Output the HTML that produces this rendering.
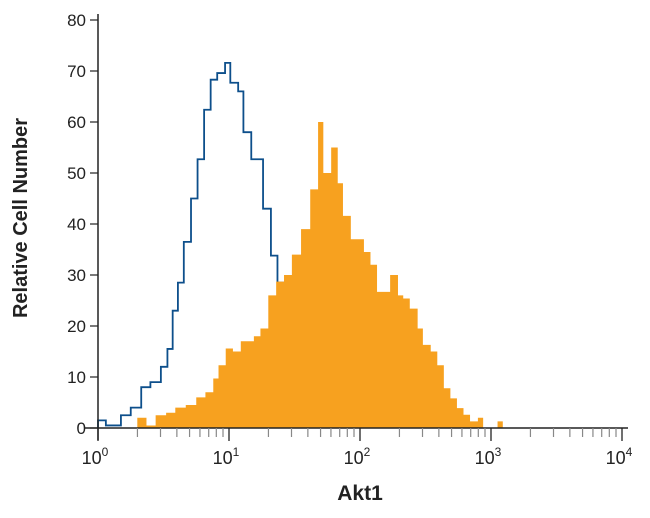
<!DOCTYPE html>
<html><head><meta charset="utf-8">
<style>
html,body{margin:0;padding:0;background:#fff;}
svg{display:block;font-family:"Liberation Sans",sans-serif;}
</style></head>
<body>
<svg id="chart" width="650" height="518" viewBox="0 0 650 518">
<g id="plot"></g>
<g id="axes"></g>
<text x="360" y="500" text-anchor="middle" font-size="21" font-weight="bold" fill="#222">Akt1</text>
<text transform="translate(27,218) rotate(-90)" text-anchor="middle" font-size="20" font-weight="bold" fill="#222">Relative Cell Number</text>
</svg>
<script>
const isoLog=[0,0.06,0.10,0.175,0.25,0.33,0.40,0.48,0.53,0.57,0.61,0.655,0.71,0.76,0.81,0.86,0.91,0.97,1.01,1.07,1.11,1.17,1.22,1.26,1.32,1.37,1.42,1.47,1.52,1.58,1.66,1.78];
const isoCount=[1.5,0.5,0.5,2.5,4,8,9,12,15.5,23,28.5,36.5,45,52.7,62.4,68.3,69.6,71.6,67.7,66,58,52.7,52.7,43,33.8,28.5,24,18,12,6,2];
const aktLog=[0.30,0.37,0.44,0.52,0.59,0.67,0.75,0.82,0.88,0.92,0.975,1.03,1.09,1.14,1.19,1.24,1.30,1.36,1.42,1.48,1.55,1.62,1.68,1.72,1.78,1.83,1.87,1.93,1.98,2.03,2.08,2.13,2.18,2.23,2.29,2.33,2.38,2.44,2.48,2.54,2.59,2.64,2.69,2.74,2.79,2.84,2.90,2.94,2.99,3.05,3.09];
const aktCount=[2,0.5,2.5,3,4,4.5,6,7,9.7,12.3,15.6,15,17,17,18,19.5,26,28.7,30,34,39,46.8,60,50,55,48,41.6,37,37,34.5,32,26.7,26.7,30,26,25.4,23.4,19.5,16.3,15,12.3,7.8,5.8,3.9,2.6,1.3,2,0,0,1.3];
const yTicks=[0,10,20,30,40,50,60,70,80];
const xDecades=[0,1,2,3,4];

const X0=98,DEC=131,Y0=428,YS=5.1;
const xs=l=>X0+l*DEC;
const ys=c=>Y0-c*YS;
const NS='http://www.w3.org/2000/svg';
const plot=document.getElementById('plot'),axes=document.getElementById('axes');
function mk(tag,attrs,parent){const e=document.createElementNS(NS,tag);for(const k in attrs)e.setAttribute(k,attrs[k]);parent.appendChild(e);return e;}

// isotype (blue) step outline
let d='M'+xs(isoLog[0])+','+ys(0);
for(let i=0;i<isoCount.length;i++){d+=' L'+xs(isoLog[i])+','+ys(isoCount[i])+' L'+xs(isoLog[i+1])+','+ys(isoCount[i]);}
const iso=mk('path',{d:d,fill:'none',stroke:'#0d4f8b','stroke-width':1.8},plot);



// Akt1 (orange) filled histogram
let d2='M'+xs(aktLog[0])+','+ys(0);
for(let i=0;i<aktCount.length;i++){d2+=' L'+xs(aktLog[i])+','+ys(aktCount[i])+' L'+xs(aktLog[i+1])+','+ys(aktCount[i]);}
d2+=' L'+xs(aktLog[aktLog.length-1])+','+ys(0)+' Z';
const akt=mk('path',{d:d2,fill:'#f7a11f',stroke:'none'},plot);



// axes lines
const ya=mk('line',{x1:X0,y1:14,x2:X0,y2:Y0+12,stroke:'#222','stroke-width':1.5},axes);


const xa=mk('line',{x1:85,y1:Y0,x2:628,y2:Y0,stroke:'#222','stroke-width':1.5},axes);



yTicks.forEach(v=>{
  const t=mk('line',{x1:X0-8,y1:ys(v),x2:X0,y2:ys(v),stroke:'#222','stroke-width':1.2},axes);
  
  
  const l=mk('text',{x:X0-12,y:ys(v)+6,'text-anchor':'end','font-size':17,fill:'#222'},axes);
  
  
  l.textContent=v;
});

xDecades.forEach(p=>{
  const t=mk('line',{x1:xs(p),y1:Y0,x2:xs(p),y2:Y0+13,stroke:'#222','stroke-width':1.3},axes);
  
  
  const l=mk('text',{x:xs(p)-3,y:Y0+36,'text-anchor':'middle','font-size':18,fill:'#222'},axes);
  
  
  l.textContent='10';
  const s=mk('tspan',{dy:-8,'font-size':12},l);
  s.textContent=p;
  if(p<4){for(let m=2;m<=9;m++){
    const mt=mk('line',{x1:xs(p+Math.log10(m)),y1:Y0,x2:xs(p+Math.log10(m)),y2:Y0+9,stroke:'#888','stroke-width':1.2},axes);
    
    
  }}
});
</script>
</body></html>
